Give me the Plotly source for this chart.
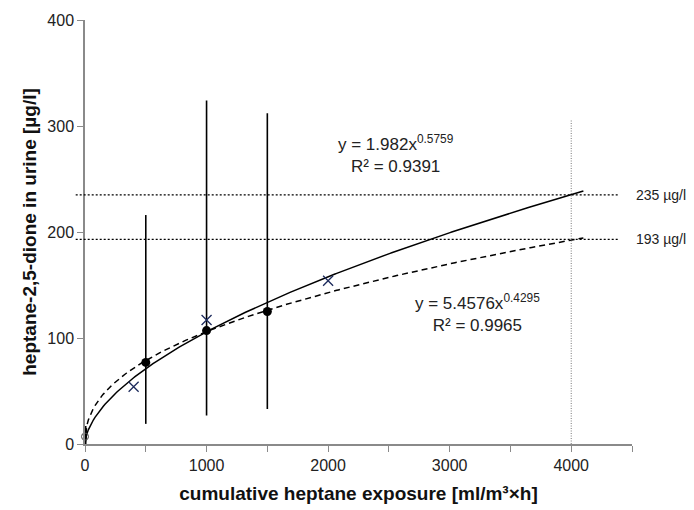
import numpy as np
import plotly.graph_objects as go

# ---- data ----
mean_x = [500, 1000, 1500]
mean_y = [77, 107, 125]
range_lo = [19, 27, 33]
range_hi = [216, 324, 312]

cross_x = [400, 1000, 2000]
cross_y = [54, 117, 154]

origin_x = [0]
origin_y = [7]
origin_hi = [17]
origin_lo = [0]

# power-law trend lines shown on the chart: y = a * x^b
fit_solid = {"a": 1.982, "b": 0.5759, "r2": "0.9391", "xmax": 4100}
fit_dash = {"a": 5.4576, "b": 0.4295, "r2": "0.9965", "xmax": 4100}

limit_levels = [235, 193]
limit_labels = ["235 µg/l", "193 µg/l"]
limit_exposure = 4000
limit_top = 306

x_ticks = [0, 1000, 2000, 3000, 4000]
x_ticktext = ["0", "1000", "2000", "3000", "4000"]
y_ticks = [0, 100, 200, 300, 400]

X_RANGE = [0, 4500]
Y_RANGE = [0, 400]

FONT = "Liberation Sans, Arial, sans-serif"

fig = go.Figure()

# trend curves
for fit, dash in [(fit_solid, "solid"), (fit_dash, "6px,4px")]:
    xs = np.linspace(0, fit["xmax"], 300)
    ys = fit["a"] * np.power(xs, fit["b"])
    fig.add_trace(go.Scatter(x=xs, y=ys, mode="lines",
                             line=dict(color="black", width=1.5, dash=dash),
                             hoverinfo="skip", showlegend=False))

# means with range bars
fig.add_trace(go.Scatter(
    x=mean_x, y=mean_y, mode="markers",
    marker=dict(symbol="circle", size=9, color="black"),
    error_y=dict(type="data", symmetric=False,
                 array=[h - m for h, m in zip(range_hi, mean_y)],
                 arrayminus=[m - l for l, m in zip(range_lo, mean_y)],
                 color="black", thickness=1.6, width=0),
    showlegend=False))

# crosses
fig.add_trace(go.Scatter(
    x=cross_x, y=cross_y, mode="markers",
    marker=dict(symbol="x-thin", size=10, line=dict(color="#1c2a5c", width=1.3)),
    showlegend=False))

# origin point
fig.add_trace(go.Scatter(
    x=origin_x, y=origin_y, mode="markers", cliponaxis=False,
    marker=dict(symbol="circle-open", size=7, color="#444", line=dict(width=1)),
    error_y=dict(type="data", symmetric=False,
                 array=[h - m for h, m in zip(origin_hi, origin_y)],
                 arrayminus=[m - l for l, m in zip(origin_lo, origin_y)],
                 color="black", thickness=3, width=0),
    showlegend=False))

# horizontal dotted limit lines (paper coords so they poke left of the axis)
def xp(v):
    return (v - X_RANGE[0]) / (X_RANGE[1] - X_RANGE[0])

def yp(v):
    return (v - Y_RANGE[0]) / (Y_RANGE[1] - Y_RANGE[0])

for lvl, lab in zip(limit_levels, limit_labels):
    fig.add_shape(type="line", xref="paper", yref="paper",
                  x0=-0.017, x1=xp(4385), y0=yp(lvl), y1=yp(lvl),
                  line=dict(color="black", width=1.3, dash="2px,2px"))
    fig.add_annotation(xref="paper", yref="paper", x=1.0035, y=yp(lvl),
                       text=lab, showarrow=False, xanchor="left", yanchor="middle",
                       font=dict(family=FONT, size=14, color="#222"))

# vertical dotted line at 4000
fig.add_shape(type="line", xref="x", yref="y",
              x0=limit_exposure, x1=limit_exposure, y0=0, y1=limit_top,
              line=dict(color="#555", width=0.8, dash="1px,1.5px"))

# equations
fig.add_annotation(x=2560, y=274, xref="x", yref="y", showarrow=False,
                   text="y = %gx<sup>%g</sup><br>R² = %s" % (fit_solid["a"], fit_solid["b"], fit_solid["r2"]),
                   align="center", font=dict(family=FONT, size=17, color="#222"))
fig.add_annotation(x=3225, y=124, xref="x", yref="y", showarrow=False,
                   text="y = %gx<sup>%g</sup><br>R² = %s" % (fit_dash["a"], fit_dash["b"], fit_dash["r2"]),
                   align="center", font=dict(family=FONT, size=17, color="#222"))

axis_common = dict(showgrid=False, zeroline=False, showline=True, automargin=False,
                   linecolor="#8a8a8a", linewidth=1.5,
                   ticks="outside", ticklen=6, tickcolor="#8a8a8a", tickwidth=1.2,
                   tickfont=dict(family=FONT, size=16, color="#222"))

fig.update_xaxes(range=X_RANGE, tickmode="array", tickvals=x_ticks, ticktext=x_ticktext,
                 minor=dict(ticks="outside", ticklen=6, tickcolor="#8a8a8a", tickwidth=1.2,
                            tickmode="linear", tick0=0, dtick=500, showgrid=False),
                 title=dict(text="<b>cumulative heptane exposure [ml/m³×h]</b>",
                            font=dict(family=FONT, size=19, color="#111"), standoff=14),
                 **axis_common)
fig.update_yaxes(range=Y_RANGE, tickmode="array", tickvals=y_ticks,
                 title=dict(text="<b>heptane-2,5-dione in urine [µg/l]</b>",
                            font=dict(family=FONT, size=19, color="#111"), standoff=6),
                 **axis_common)

# the page body has an 8px default margin, so the figure is sized to fit the window
fig.update_layout(width=686, height=502, autosize=False,
                  margin=dict(l=77, r=62, t=12, b=66),
                  plot_bgcolor="white", paper_bgcolor="white",
                  showlegend=False)

fig.write_html("out.html")
